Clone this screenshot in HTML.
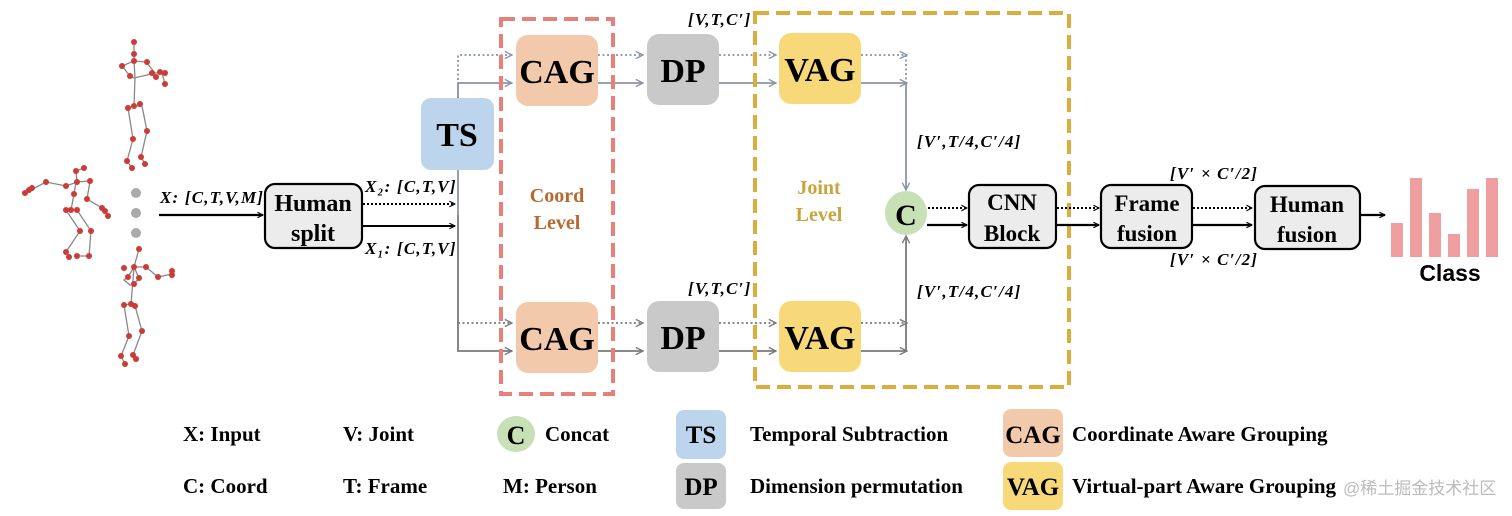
<!DOCTYPE html>
<html><head><meta charset="utf-8"><style>
html,body{margin:0;padding:0;background:#fff;width:1512px;height:516px;overflow:hidden}
svg{display:block}
text{font-family:"Liberation Serif",serif;font-weight:bold}
.m{font-style:italic;font-size:17px;letter-spacing:1.2px}
</style></head><body>
<svg width="1512" height="516" viewBox="0 0 1512 516" xmlns="http://www.w3.org/2000/svg">
<defs>
<marker id="ab" viewBox="0 0 10 10" refX="9" refY="5" markerWidth="7" markerHeight="7" orient="auto" markerUnits="userSpaceOnUse"><path d="M1,1 L9,5 L1,9" fill="none" stroke="#000" stroke-width="1.6"/></marker>
<marker id="ag" viewBox="0 0 10 10" refX="9" refY="5" markerWidth="9" markerHeight="9" orient="auto" markerUnits="userSpaceOnUse"><path d="M1,1 L9,5 L1,9" fill="none" stroke="#8a94a6" stroke-width="1.5"/></marker>
<marker id="ag2" viewBox="0 0 10 10" refX="9" refY="5" markerWidth="9" markerHeight="9" orient="auto" markerUnits="userSpaceOnUse"><path d="M1,1 L9,5 L1,9" fill="none" stroke="#7a7a7a" stroke-width="1.5"/></marker>
</defs>

<!-- skeletons -->
<g stroke="#888" stroke-width="1.3" fill="none">
<polyline points="134,42 134,54 134,61 122,66 130,76 134,78 147,75 152,73 162,73 165,84"/>
<polyline points="134,61 146,62 155,73"/>
<polyline points="134,61 135,78 134,106 128,108 133,139 127,161 132,168"/>
<polyline points="134,106 142,106 147,131 141,157 145,164"/>
<polyline points="25,193 46,182 66,186 77,182 76,171 84,168"/>
<polyline points="77,182 90,181 87,199 102,208 108,216"/>
<polyline points="76,182 74,194 71,210 66,210 80,231 66,252 69,257"/>
<polyline points="71,210 77,210 91,231 89,256 77,256"/>
<polyline points="139,249 134,267 128,277 124,280 130,285 134,284 139,278 134,267 146,267 158,277 172,274"/>
<polyline points="134,267 131,304 124,305 129,336 121,356 125,364"/>
<polyline points="131,304 135,306 142,331 133,355 136,359"/>
</g>
<g fill="#cc3b35">
<circle cx="134" cy="42" r="3"/><circle cx="134" cy="54" r="3"/><circle cx="134" cy="61" r="3"/><circle cx="122" cy="66" r="3"/><circle cx="130" cy="76" r="3"/><circle cx="147" cy="62" r="3"/><circle cx="152" cy="73" r="3"/><circle cx="160" cy="72" r="3"/><circle cx="165" cy="73" r="3"/><circle cx="165" cy="84" r="3"/><circle cx="156" cy="77" r="3"/><circle cx="134" cy="106" r="3"/><circle cx="140" cy="104" r="3"/><circle cx="128" cy="108" r="3"/><circle cx="147" cy="131" r="3"/><circle cx="133" cy="139" r="3"/><circle cx="141" cy="157" r="3"/><circle cx="145" cy="164" r="3"/><circle cx="127" cy="161" r="3"/><circle cx="132" cy="168" r="3"/>
<circle cx="25" cy="193" r="3"/><circle cx="29" cy="190" r="3"/><circle cx="32" cy="188" r="3"/><circle cx="46" cy="182" r="3"/><circle cx="66" cy="186" r="3"/><circle cx="77" cy="182" r="3"/><circle cx="76" cy="171" r="3"/><circle cx="84" cy="168" r="3"/><circle cx="90" cy="181" r="3"/><circle cx="87" cy="199" r="3"/><circle cx="102" cy="208" r="3"/><circle cx="105" cy="211" r="3"/><circle cx="108" cy="216" r="3"/><circle cx="74" cy="194" r="3"/><circle cx="71" cy="210" r="3"/><circle cx="66" cy="210" r="3"/><circle cx="77" cy="210" r="3"/><circle cx="80" cy="231" r="3"/><circle cx="91" cy="231" r="3"/><circle cx="66" cy="252" r="3"/><circle cx="69" cy="257" r="3"/><circle cx="89" cy="256" r="3"/><circle cx="77" cy="256" r="3"/>
<circle cx="139" cy="249" r="3"/><circle cx="134" cy="267" r="3"/><circle cx="124" cy="268" r="3"/><circle cx="128" cy="277" r="3"/><circle cx="139" cy="278" r="3"/><circle cx="134" cy="284" r="3"/><circle cx="146" cy="267" r="3"/><circle cx="158" cy="277" r="3"/><circle cx="172" cy="271" r="3"/><circle cx="172" cy="275" r="3"/><circle cx="131" cy="304" r="3"/><circle cx="135" cy="306" r="3"/><circle cx="124" cy="305" r="3"/><circle cx="142" cy="331" r="3"/><circle cx="129" cy="336" r="3"/><circle cx="121" cy="356" r="3"/><circle cx="125" cy="364" r="3"/><circle cx="133" cy="355" r="3"/><circle cx="136" cy="359" r="3"/>
</g>
<g fill="#aaa"><circle cx="136" cy="193" r="5"/><circle cx="136" cy="213" r="5"/><circle cx="136" cy="233" r="5"/></g>

<!-- input arrow -->
<line x1="159" y1="215" x2="263" y2="215" stroke="#000" stroke-width="2.2" marker-end="url(#ab)"/>
<text x="160" y="203" class="m">X: [C,T,V,M]</text>

<!-- Human split -->
<rect x="265" y="184" width="97" height="64" rx="10" fill="#ececec" stroke="#000" stroke-width="2.2"/>
<text x="313" y="211" font-size="24" text-anchor="middle">Human</text>
<text x="313" y="241" font-size="24" text-anchor="middle">split</text>
<line x1="363" y1="204" x2="455" y2="204" stroke="#000" stroke-width="2" stroke-dasharray="2,2" marker-end="url(#ab)"/>
<line x1="362" y1="226" x2="455" y2="226" stroke="#000" stroke-width="2" marker-end="url(#ab)"/>
<text x="365" y="192" class="m">X₂: [C,T,V]</text>
<text x="365" y="254" class="m">X₁: [C,T,V]</text>

<!-- gray splits -->
<g stroke="#8a94a6" stroke-width="1.8" fill="none">
<polyline points="458,98 458,55 512,55" stroke-dasharray="2,2.5" marker-end="url(#ag)"/>
<polyline points="458,215 458,83 512,83" marker-end="url(#ag)"/>
<line x1="598" y1="55" x2="643" y2="55" stroke-dasharray="2,2.5" marker-end="url(#ag)"/>
<line x1="598" y1="83" x2="643" y2="83" marker-end="url(#ag)"/>
<line x1="719" y1="55" x2="776" y2="55" stroke-dasharray="2,2.5" marker-end="url(#ag)"/>
<line x1="719" y1="83" x2="776" y2="83" marker-end="url(#ag)"/>
<line x1="861" y1="55" x2="907" y2="55" stroke-dasharray="2,2.5" marker-end="url(#ag)"/>
<line x1="906" y1="55" x2="906" y2="83" stroke-dasharray="2,2.5"/>
<line x1="861" y1="83" x2="907" y2="83" marker-end="url(#ag)"/>
<line x1="906" y1="83" x2="906" y2="190" marker-end="url(#ag)"/>
</g>
<g stroke="#7a7a7a" stroke-width="1.8" fill="none">
<polyline points="458,215 458,351 512,351" marker-end="url(#ag2)"/>
<polyline points="458,323 512,323" stroke-dasharray="2,2.5" marker-end="url(#ag2)"/>
<line x1="598" y1="323" x2="643" y2="323" stroke-dasharray="2,2.5" marker-end="url(#ag2)"/>
<line x1="598" y1="351" x2="643" y2="351" marker-end="url(#ag2)"/>
<line x1="719" y1="323" x2="776" y2="323" stroke-dasharray="2,2.5" marker-end="url(#ag2)"/>
<line x1="719" y1="351" x2="776" y2="351" marker-end="url(#ag2)"/>
<line x1="861" y1="323" x2="907" y2="323" stroke-dasharray="2,2.5" marker-end="url(#ag2)"/>
<line x1="861" y1="351" x2="907" y2="351" marker-end="url(#ag2)"/>
<line x1="906" y1="351" x2="906" y2="236" marker-end="url(#ag2)"/>
</g>

<!-- TS -->
<rect x="421" y="98" width="73" height="72" rx="10" fill="#bdd5ec"/>
<text x="457" y="146" font-size="34" text-anchor="middle">TS</text>

<!-- dashed frames -->
<rect x="501" y="19" width="112" height="375" fill="none" stroke="#e8807a" stroke-width="4" stroke-dasharray="14,7"/>
<rect x="755" y="13" width="314" height="374" fill="none" stroke="#dcad3c" stroke-width="4" stroke-dasharray="14,7"/>
<text x="557" y="202" font-size="20" fill="#b8692f" text-anchor="middle">Coord</text>
<text x="557" y="229" font-size="20" fill="#b8692f" text-anchor="middle">Level</text>
<text x="819" y="194" font-size="20" fill="#c9a33c" text-anchor="middle">Joint</text>
<text x="819" y="221" font-size="20" fill="#c9a33c" text-anchor="middle">Level</text>

<!-- CAG/DP/VAG -->
<rect x="516" y="35" width="82" height="71" rx="12" fill="#f3c9ab"/>
<text x="557" y="83" font-size="34" text-anchor="middle">CAG</text>
<rect x="516" y="302" width="82" height="71" rx="12" fill="#f3c9ab"/>
<text x="557" y="350" font-size="34" text-anchor="middle">CAG</text>
<rect x="647" y="34" width="72" height="71" rx="12" fill="#c9c9c9"/>
<text x="683" y="82" font-size="34" text-anchor="middle">DP</text>
<rect x="647" y="301" width="72" height="71" rx="12" fill="#c9c9c9"/>
<text x="683" y="349" font-size="34" text-anchor="middle">DP</text>
<rect x="779" y="33" width="82" height="71" rx="12" fill="#f8d97a"/>
<text x="820" y="81" font-size="34" text-anchor="middle">VAG</text>
<rect x="779" y="301" width="82" height="71" rx="12" fill="#f8d97a"/>
<text x="820" y="349" font-size="34" text-anchor="middle">VAG</text>

<text x="688" y="25" class="m">[V,T,C′]</text>
<text x="688" y="294" class="m">[V,T,C′]</text>
<text x="917" y="147" class="m">[V′,T/4,C′/4]</text>
<text x="917" y="297" class="m">[V′,T/4,C′/4]</text>

<!-- concat -->
<ellipse cx="906" cy="213" rx="21" ry="22" fill="#c8e0b6"/>
<text x="906" y="225" font-size="30" text-anchor="middle">C</text>
<line x1="928" y1="208" x2="967" y2="208" stroke="#000" stroke-width="2" stroke-dasharray="2,2" marker-end="url(#ab)"/>
<line x1="927" y1="225" x2="967" y2="225" stroke="#000" stroke-width="2.2" marker-end="url(#ab)"/>

<rect x="969" y="185" width="87" height="63" rx="10" fill="#ececec" stroke="#000" stroke-width="2.2"/>
<text x="1012" y="210" font-size="23" text-anchor="middle">CNN</text>
<text x="1012" y="241" font-size="23" text-anchor="middle">Block</text>
<line x1="1057" y1="208" x2="1099" y2="208" stroke="#000" stroke-width="2" stroke-dasharray="2,2" marker-end="url(#ab)"/>
<line x1="1057" y1="225" x2="1099" y2="225" stroke="#000" stroke-width="2.2" marker-end="url(#ab)"/>

<rect x="1101" y="185" width="91" height="63" rx="10" fill="#ececec" stroke="#000" stroke-width="2.2"/>
<text x="1147" y="211" font-size="23" text-anchor="middle">Frame</text>
<text x="1147" y="241" font-size="23" text-anchor="middle">fusion</text>
<text x="1170" y="179" class="m">[V′ × C′/2]</text>
<text x="1170" y="265" class="m">[V′ × C′/2]</text>
<line x1="1193" y1="208" x2="1252" y2="208" stroke="#000" stroke-width="2" stroke-dasharray="2,2" marker-end="url(#ab)"/>
<line x1="1193" y1="225" x2="1252" y2="225" stroke="#000" stroke-width="2.2" marker-end="url(#ab)"/>

<rect x="1255" y="186" width="105" height="63" rx="10" fill="#ececec" stroke="#000" stroke-width="2.2"/>
<text x="1307" y="212" font-size="23" text-anchor="middle">Human</text>
<text x="1307" y="242" font-size="23" text-anchor="middle">fusion</text>
<line x1="1360" y1="215" x2="1385" y2="215" stroke="#000" stroke-width="2.2" marker-end="url(#ab)"/>

<g fill="#ef9f9f">
<rect x="1391" y="223" width="12" height="34"/>
<rect x="1410" y="178" width="12" height="79"/>
<rect x="1429" y="213" width="12" height="44"/>
<rect x="1448" y="234" width="12" height="23"/>
<rect x="1467" y="189" width="12" height="68"/>
<rect x="1486" y="178" width="12" height="79"/>
</g>
<text x="1450" y="281" font-size="23" text-anchor="middle" style="font-family:'Liberation Sans',sans-serif">Class</text>

<!-- legend -->
<g font-size="21">
<text x="183" y="441">X: Input</text>
<text x="343" y="441">V: Joint</text>
<text x="545" y="441">Concat</text>
<text x="750" y="441">Temporal Subtraction</text>
<text x="1072" y="441">Coordinate Aware Grouping</text>
<text x="183" y="493">C: Coord</text>
<text x="343" y="493">T: Frame</text>
<text x="503" y="493">M: Person</text>
<text x="750" y="493">Dimension permutation</text>
<text x="1072" y="493">Virtual-part Aware Grouping</text>
</g>
<ellipse cx="516" cy="434" rx="19" ry="18" fill="#c8e0b6"/>
<text x="516" y="444" font-size="26" text-anchor="middle">C</text>
<rect x="676" y="410" width="50" height="49" rx="8" fill="#bdd5ec"/>
<text x="701" y="443" font-size="25" text-anchor="middle">TS</text>
<rect x="676" y="463" width="50" height="46" rx="8" fill="#c9c9c9"/>
<text x="701" y="495" font-size="25" text-anchor="middle">DP</text>
<rect x="1003" y="409" width="60" height="48" rx="8" fill="#f3c9ab"/>
<text x="1033" y="443" font-size="25" text-anchor="middle">CAG</text>
<rect x="1003" y="462" width="60" height="48" rx="8" fill="#f8d97a"/>
<text x="1033" y="495" font-size="25" text-anchor="middle">VAG</text>
<text x="1343" y="494" font-size="17" fill="#bbb" style="font-weight:normal;font-family:'Liberation Sans','Noto Sans CJK SC',sans-serif">@稀土掘金技术社区</text>
</svg>
</body></html>
